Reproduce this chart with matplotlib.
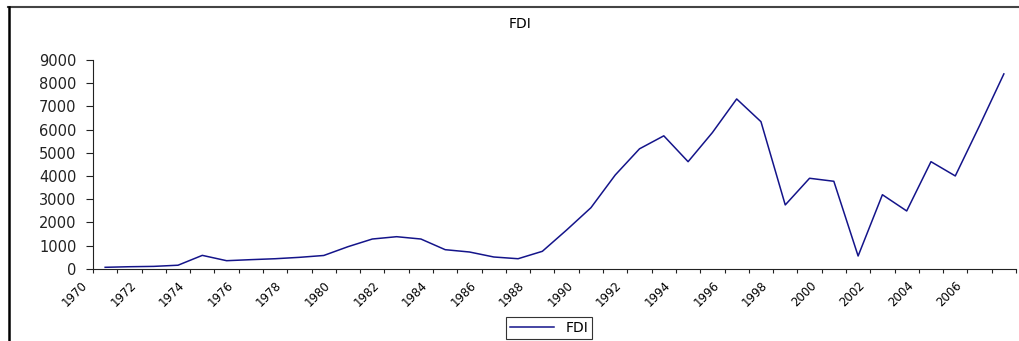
import numpy as np
import matplotlib.pyplot as plt
from matplotlib.lines import Line2D
from matplotlib.transforms import ScaledTranslation

plt.rcParams['font.family'] = ['DejaVu Sans']

# FDI series, one value per year
fdi = [60, 85, 100, 150, 575, 345, 390, 430, 490, 570,
       950, 1280, 1380, 1280, 820, 720, 505, 430, 750, 1670,
       2630, 4040, 5170, 5730, 4615, 5870, 7320, 6340, 2750, 3900,
       3770, 548, 3190, 2490, 4615, 4000, 6170, 8400]
tick_years = list(range(1970, 2007, 2))
y_ticks = list(range(0, 9001, 1000))

W, H, DPI = 1020, 341, 100
fig = plt.figure(figsize=(W / DPI, H / DPI), dpi=DPI)
ax = fig.add_axes([93 / W, 1 - 268.7 / H, 923 / W, 208.7 / H])

x = np.arange(len(fdi))
ax.plot(x, fdi, color='#14148a', lw=1.1, label='FDI')

ax.set_xlim(-0.5, len(fdi) - 0.5)
ax.set_ylim(0, 9000)
ax.set_yticks(y_ticks)
ax.tick_params(axis='y', length=5, width=0.8, pad=7, labelsize=10.5, colors='#222222')
ax.set_xticks([])
ax.set_xticks(np.arange(-0.5, len(fdi)), minor=True)
ax.tick_params(axis='x', which='minor', length=3, width=0.8, color='#222222')

for s in ['top', 'right']:
    ax.spines[s].set_visible(False)
for s in ['left', 'bottom']:
    ax.spines[s].set_linewidth(0.8)
    ax.spines[s].set_color('#222222')

# rotated year labels
off = ScaledTranslation(0, -10 / DPI, fig.dpi_scale_trans)
for k, yr in enumerate(tick_years):
    ax.text(2 * k - 1, 0, str(yr), transform=ax.get_xaxis_transform() + off,
            rotation=45, rotation_mode='anchor', ha='right', va='top',
            fontsize=8.5, clip_on=False)

fig.text(520 / W, 1 - 24 / H, 'FDI', ha='center', va='center', fontsize=10)

leg = fig.legend(loc='center', bbox_to_anchor=(549 / W, 1 - 328 / H),
                 fontsize=10, fancybox=False, edgecolor='#333333',
                 handlelength=3.2, borderpad=0.3, framealpha=1)
leg.get_frame().set_linewidth(0.8)

# page frame
fig.add_artist(Line2D([8 / W, 1], [1 - 7 / H, 1 - 7 / H], color='#444444', lw=1.5))
fig.add_artist(Line2D([9 / W, 9 / W], [0, 1 - 7 / H], color='black', lw=1.8))

fig.savefig('out.png', dpi=DPI)
